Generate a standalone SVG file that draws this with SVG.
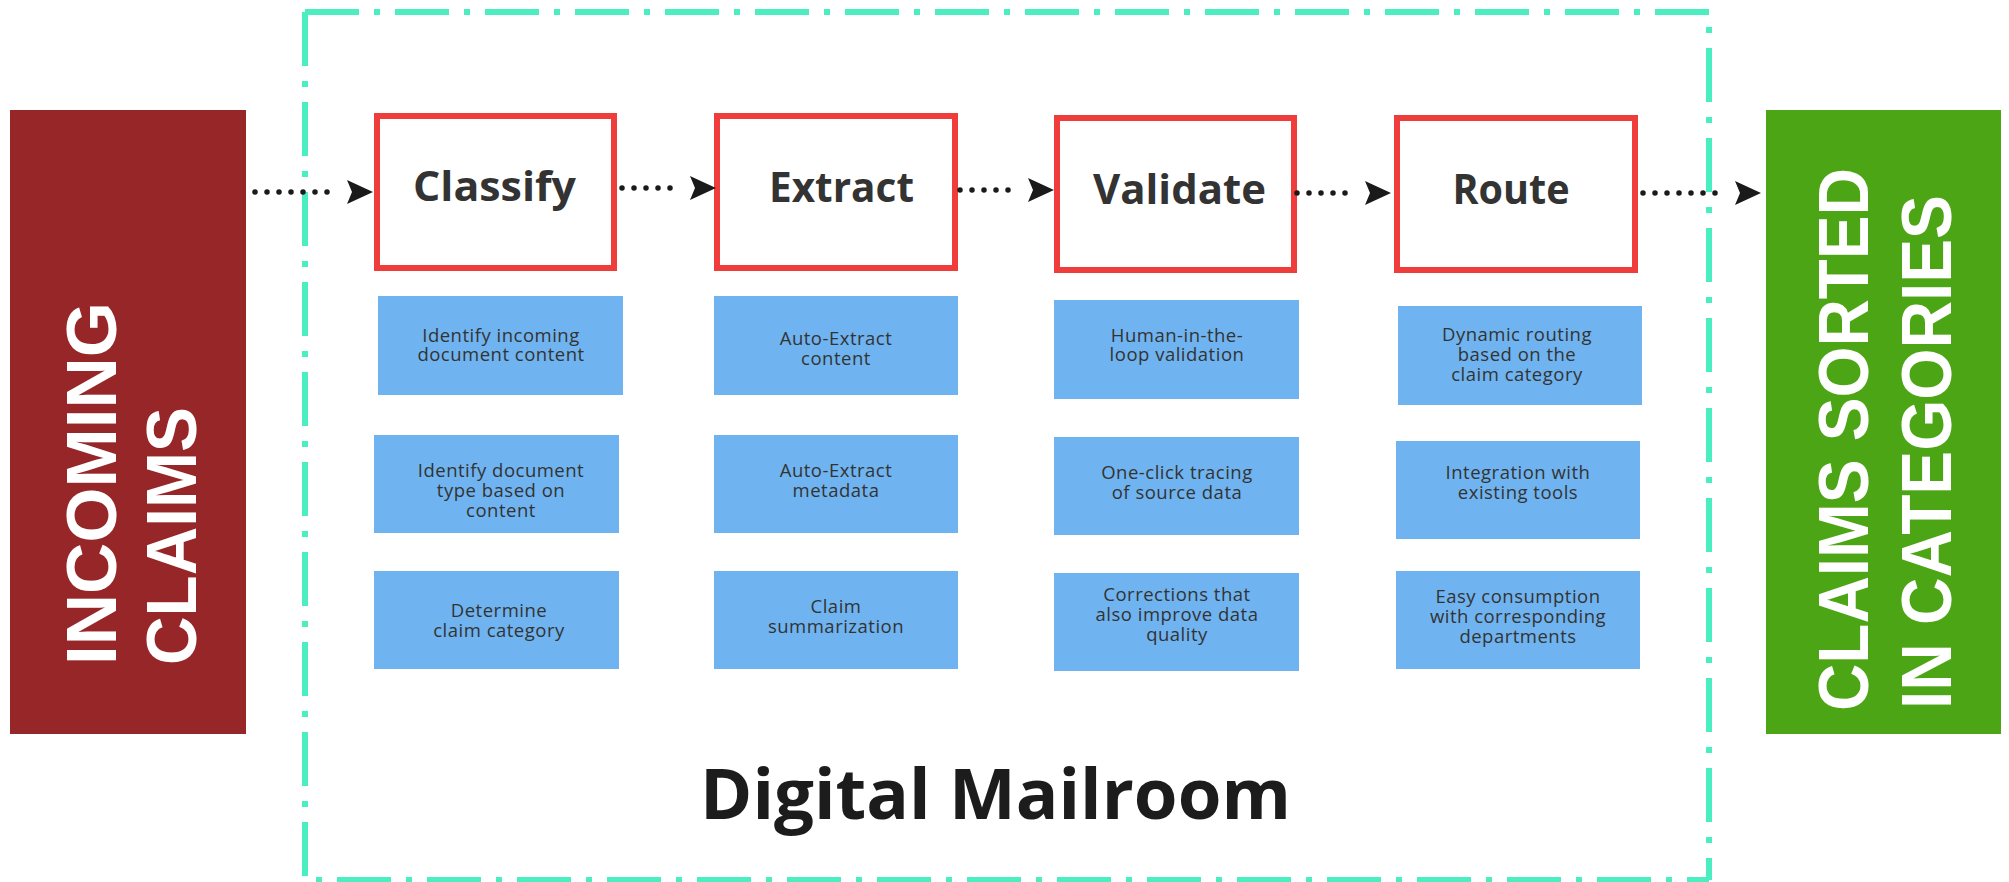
<svg xmlns="http://www.w3.org/2000/svg" width="2009" height="882" viewBox="0 0 2009 882">
<defs>
<style>
.border{fill:none;stroke:#4BEEC1;stroke-width:6;stroke-dasharray:54 15 6 15}
.step{fill:#fff;stroke:#EF3D3B;stroke-width:6}
.step-t{font-family:"Open Sans","Liberation Sans",sans-serif;font-weight:700;font-size:41px;fill:#333;text-anchor:middle}
.task{fill:#6FB3F0}
.task-t{font-family:"Open Sans","Liberation Sans",sans-serif;font-size:18.5px;letter-spacing:0.5px;fill:#333;text-anchor:middle}
.big{font-family:"Liberation Sans",Arial,sans-serif;font-weight:700;font-size:70px;fill:#fff}
.dots{fill:none;stroke:#1a1a1a;stroke-width:5.5;stroke-linecap:round;stroke-dasharray:0 12;marker-end:url(#ah)}
.title{font-family:"Open Sans","Liberation Sans",sans-serif;font-weight:700;font-size:70px;fill:#1c1c1c;text-anchor:middle}
</style>
<marker id="ah" markerUnits="userSpaceOnUse" markerWidth="40" markerHeight="30" refX="0" refY="12" orient="auto" overflow="visible">
<path d="M8,0 L34,12 L8,24 L13,12 Z" fill="#1a1a1a"/>
</marker>
</defs>
<rect width="2009" height="882" fill="#fff"/>

<g id="mailroom-border">
<path class="border" d="M305,12 H1709 V880"/>
<path class="border" d="M305,12 V880 H1709"/>
</g>

<g id="incoming">
<rect x="10" y="110" width="236" height="624" fill="#962627"/>
<text class="big" transform="rotate(-90)" x="-665" y="116" textLength="363" lengthAdjust="spacingAndGlyphs">INCOMING</text>
<text class="big" transform="rotate(-90)" x="-665" y="196" textLength="258" lengthAdjust="spacingAndGlyphs">CLAIMS</text>
</g>

<g id="sorted">
<rect x="1766" y="110" width="235" height="624" fill="#4CA514"/>
<text class="big" transform="rotate(-90)" x="-711" y="1868" textLength="543" lengthAdjust="spacingAndGlyphs">CLAIMS SORTED</text>
<text class="big" transform="rotate(-90)" x="-709" y="1951" textLength="514" lengthAdjust="spacingAndGlyphs">IN CATEGORIES</text>
</g>

<g id="classify">
<rect class="step" x="377" y="116" width="237" height="152"/>
<text class="step-t" x="494.5" y="201" textLength="163" lengthAdjust="spacingAndGlyphs">Classify</text>
</g>
<g id="extract">
<rect class="step" x="717" y="116" width="238" height="152"/>
<text class="step-t" x="841.5" y="202" textLength="145" lengthAdjust="spacingAndGlyphs">Extract</text>
</g>
<g id="validate">
<rect class="step" x="1057" y="118" width="237" height="152"/>
<text class="step-t" x="1179.5" y="204" textLength="173" lengthAdjust="spacingAndGlyphs">Validate</text>
</g>
<g id="route">
<rect class="step" x="1397" y="118" width="238" height="152"/>
<text class="step-t" x="1511" y="204" textLength="117" lengthAdjust="spacingAndGlyphs">Route</text>
</g>

<g id="classify-1">
<rect class="task" x="378" y="296" width="245" height="99"/>
<text class="task-t" x="501" y="342">Identify incoming</text>
<text class="task-t" x="501" y="361">document content</text>
</g>
<g id="classify-2">
<rect class="task" x="374" y="435" width="245" height="98"/>
<text class="task-t" x="501" y="477">Identify document</text>
<text class="task-t" x="501" y="497">type based on</text>
<text class="task-t" x="501" y="517">content</text>
</g>
<g id="classify-3">
<rect class="task" x="374" y="571" width="245" height="98"/>
<text class="task-t" x="499" y="617">Determine</text>
<text class="task-t" x="499" y="637">claim category</text>
</g>

<g id="extract-1">
<rect class="task" x="714" y="296" width="244" height="99"/>
<text class="task-t" x="836" y="345">Auto-Extract</text>
<text class="task-t" x="836" y="365">content</text>
</g>
<g id="extract-2">
<rect class="task" x="714" y="435" width="244" height="98"/>
<text class="task-t" x="836" y="477">Auto-Extract</text>
<text class="task-t" x="836" y="497">metadata</text>
</g>
<g id="extract-3">
<rect class="task" x="714" y="571" width="244" height="98"/>
<text class="task-t" x="836" y="613">Claim</text>
<text class="task-t" x="836" y="633">summarization</text>
</g>

<g id="validate-1">
<rect class="task" x="1054" y="300" width="245" height="99"/>
<text class="task-t" x="1177" y="342">Human-in-the-</text>
<text class="task-t" x="1177" y="361">loop validation</text>
</g>
<g id="validate-2">
<rect class="task" x="1054" y="437" width="245" height="98"/>
<text class="task-t" x="1177" y="479">One-click tracing</text>
<text class="task-t" x="1177" y="499">of source data</text>
</g>
<g id="validate-3">
<rect class="task" x="1054" y="573" width="245" height="98"/>
<text class="task-t" x="1177" y="601">Corrections that</text>
<text class="task-t" x="1177" y="621">also improve data</text>
<text class="task-t" x="1177" y="641">quality</text>
</g>

<g id="route-1">
<rect class="task" x="1398" y="306" width="244" height="99"/>
<text class="task-t" x="1517" y="341">Dynamic routing</text>
<text class="task-t" x="1517" y="361">based on the</text>
<text class="task-t" x="1517" y="381">claim category</text>
</g>
<g id="route-2">
<rect class="task" x="1396" y="441" width="244" height="98"/>
<text class="task-t" x="1518" y="479">Integration with</text>
<text class="task-t" x="1518" y="499">existing tools</text>
</g>
<g id="route-3">
<rect class="task" x="1396" y="571" width="244" height="98"/>
<text class="task-t" x="1518" y="603">Easy consumption</text>
<text class="task-t" x="1518" y="623">with corresponding</text>
<text class="task-t" x="1518" y="643">departments</text>
</g>

<g id="connectors">
<path class="dots" d="M255,192 H339"/>
<path class="dots" d="M622,188 H682"/>
<path class="dots" d="M960,190 H1020"/>
<path class="dots" d="M1297,193 H1357"/>
<path class="dots" d="M1643,193 H1727"/>
</g>

<g id="caption">
<text class="title" x="995.5" y="819" textLength="591" lengthAdjust="spacingAndGlyphs">Digital Mailroom</text>
</g>
</svg>
